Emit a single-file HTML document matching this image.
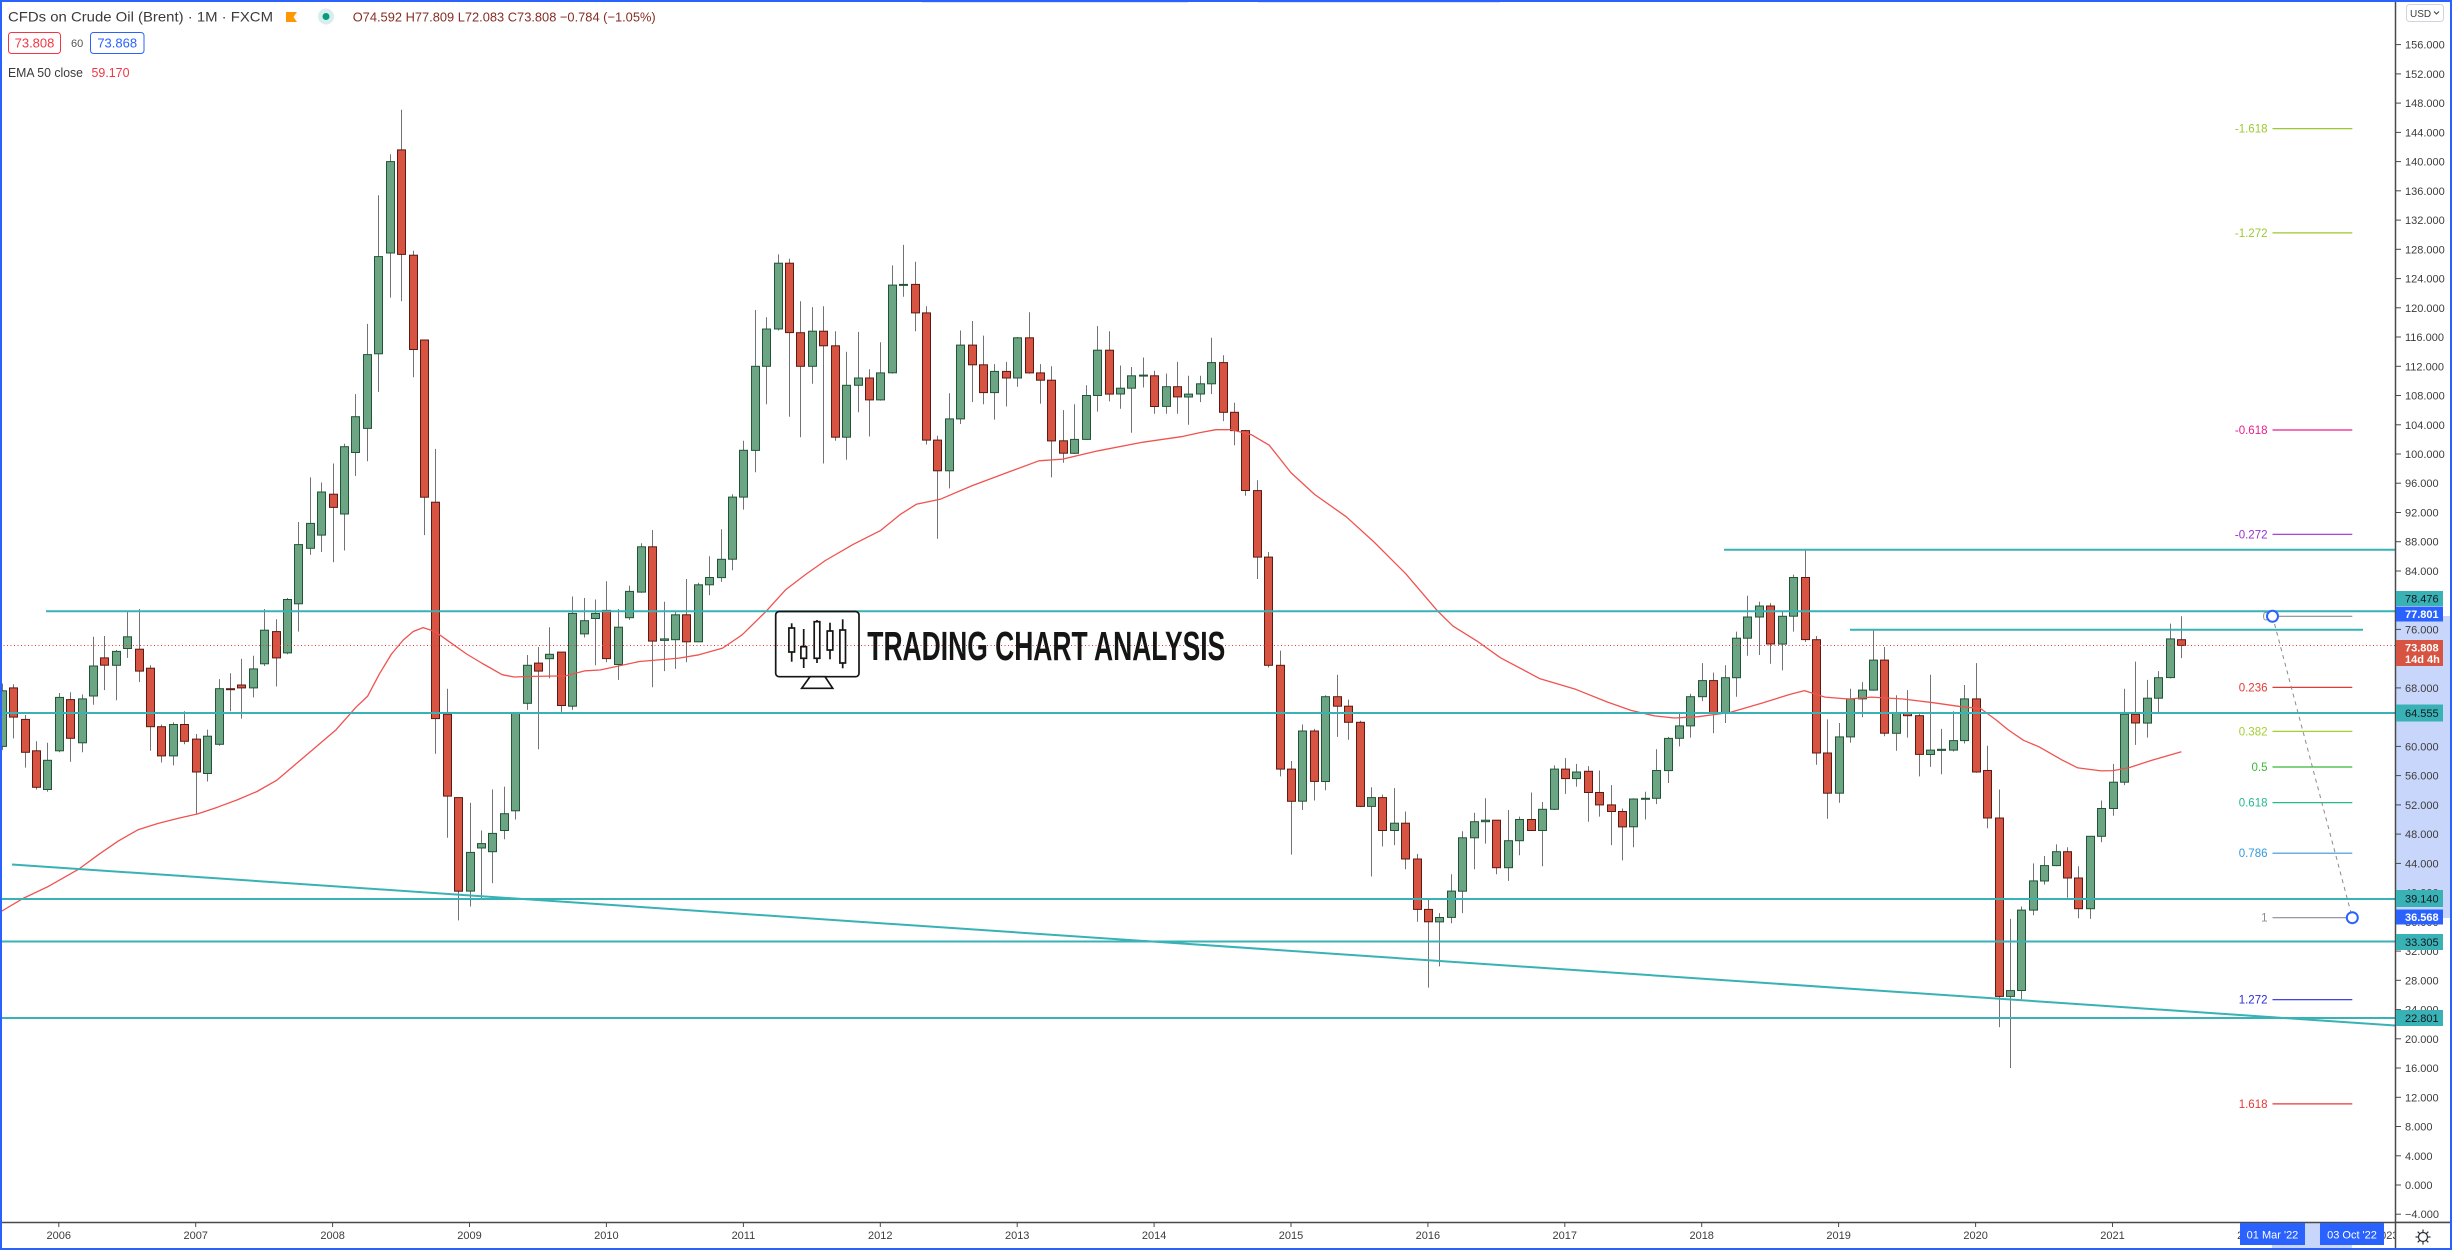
<!DOCTYPE html>
<html>
<head>
<meta charset="utf-8">
<style>
html,body{margin:0;padding:0;background:#fff;}
svg{display:block;}
text{font-family:"Liberation Sans",Arial,sans-serif;}
</style>
</head>
<body>
<svg id="chart" width="2452" height="1250" viewBox="0 0 2452 1250" xmlns="http://www.w3.org/2000/svg">
<rect x="0" y="0" width="2452" height="1250" fill="#ffffff"/>
<rect x="922" y="0" width="266" height="3" fill="#e3e5ea"/>
<rect x="1258" y="0" width="242" height="3" fill="#e3e5ea"/>

<!-- candles -->
<g id="candles"></g>

<!-- EMA 50 -->
<polyline fill="none" stroke="#ef5350" stroke-width="1.3" stroke-linejoin="round" points="0,912.1 23.7,898.1 47.4,886.9 79.1,868.9 98.9,854.3 118.6,840.8 138.4,829.6 158.2,823.4 177.9,818.4 197.7,813.9 217.5,807.2 237.2,799.9 257,791.5 276.8,780.2 296.6,763.4 316.3,746.6 336.1,729.7 355.9,707.3 367.7,696.1 379.6,673.6 391.5,654 403.3,640 413.2,631.5 423.1,627.6 435,631.5 450.8,642.8 466.6,654 482.4,663.5 502.2,674.7 514,677 533.8,676.4 565.4,675.9 585.2,670.8 600,670 639.5,661.5 679.1,658.1 698.9,654.8 722.6,648.1 742.3,634.7 766.1,611.3 785.8,589.6 805.6,574.5 825.4,560.5 853.1,544.4 880.7,530.4 900.5,514.3 916.3,504.3 940.1,499.3 971.7,485.9 1007.3,472.5 1038.9,460.8 1062.6,459.1 1098.2,450.8 1141.7,442.4 1181.3,436.7 1200,432.6 1215.8,429.7 1231.6,429.7 1251.4,434.7 1269.2,445.2 1290.9,472.6 1314.7,494.5 1346.3,516.8 1374,542 1405.6,573.6 1437.2,610.6 1453.1,626.2 1476.8,640.9 1500.5,657.8 1540.1,678.8 1575.6,689.3 1607.3,702 1631,710.4 1654.7,715.9 1674.5,718 1698.2,716.7 1729.8,712.5 1761.5,703.2 1790,694.4 1804.4,690.6 1825,697.1 1848.4,699 1871.7,697.1 1902.8,699 1934,702.8 1961.2,706.7 1980.7,708.6 1996.2,720 2007.9,729.6 2023.5,740.3 2039,746.8 2062.4,760.2 2077.9,767.9 2101.3,770.9 2113,770.6 2128.5,767.9 2151.9,760.2 2181.4,751.8"/>

<!-- close price dotted line -->
<line x1="0" y1="645.5" x2="2395" y2="645.5" stroke="#e53935" stroke-width="1" stroke-dasharray="1,2.5"/>

<!-- teal horizontal lines -->
<g stroke="#38b2b4" stroke-width="2">
<line x1="46" y1="611.3" x2="2395" y2="611.3"/>
<line x1="1724" y1="549.8" x2="2395" y2="549.8"/>
<line x1="1850" y1="629.7" x2="2363" y2="629.7"/>
<line x1="0" y1="713" x2="2395" y2="713"/>
<line x1="0" y1="899" x2="2395" y2="899"/>
<line x1="0" y1="941.5" x2="2395" y2="941.5"/>
<line x1="0" y1="1018" x2="2395" y2="1018"/>
<line x1="12" y1="864.5" x2="2395" y2="1025.5"/>
</g>

<!-- logo -->
<g fill="none" stroke="#151515" stroke-width="1.7">
<rect x="775.7" y="611.5" width="83.3" height="65.2" rx="3.5"/>
<polygon points="810,676.7 825,676.7 832.7,688.3 801.7,688.3"/>
<line x1="791.7" y1="623.3" x2="791.7" y2="661.7"/>
<line x1="803.7" y1="629" x2="803.7" y2="668"/>
<line x1="817" y1="620" x2="817" y2="663"/>
<line x1="830" y1="622.7" x2="830" y2="659.3"/>
<line x1="842.7" y1="619.3" x2="842.7" y2="668.3"/>
</g>
<g fill="#ffffff" stroke="#151515" stroke-width="1.7">
<rect x="788.9" y="628" width="5.6" height="24"/>
<rect x="800.9" y="646.7" width="5.6" height="11.6"/>
<rect x="814.2" y="621.7" width="5.6" height="36.6"/>
<rect x="827.2" y="631" width="5.6" height="19"/>
<rect x="839.9" y="630" width="5.6" height="33"/>
</g>
<text x="867.3" y="660" font-size="41" font-weight="bold" fill="#151515" textLength="358" lengthAdjust="spacingAndGlyphs">TRADING CHART ANALYSIS</text>

<!-- fibonacci -->
<g stroke-width="1.2">
<line x1="2272.5" y1="128.6" x2="2352.3" y2="128.6" stroke="#9bc832"/>
<line x1="2272.5" y1="232.9" x2="2352.3" y2="232.9" stroke="#9bc832"/>
<line x1="2272.5" y1="430" x2="2352.3" y2="430" stroke="#e91e8c"/>
<line x1="2272.5" y1="534.3" x2="2352.3" y2="534.3" stroke="#9a2fd0"/>
<line x1="2272.5" y1="616.3" x2="2352.3" y2="616.3" stroke="#8a8d96"/>
<line x1="2272.5" y1="687.4" x2="2352.3" y2="687.4" stroke="#e53935"/>
<line x1="2272.5" y1="731.4" x2="2352.3" y2="731.4" stroke="#a5cf35"/>
<line x1="2272.5" y1="767" x2="2352.3" y2="767" stroke="#38b838"/>
<line x1="2272.5" y1="802.6" x2="2352.3" y2="802.6" stroke="#26b98e"/>
<line x1="2272.5" y1="853.2" x2="2352.3" y2="853.2" stroke="#3399dd"/>
<line x1="2272.5" y1="917.7" x2="2352.3" y2="917.7" stroke="#8a8d96"/>
<line x1="2272.5" y1="999.7" x2="2352.3" y2="999.7" stroke="#2b2bd9"/>
<line x1="2272.5" y1="1103.9" x2="2352.3" y2="1103.9" stroke="#e53935"/>
</g>
<g font-size="11.5" text-anchor="end">
<text x="2267.5" y="132.6" fill="#9bc832">-1.618</text>
<text x="2267.5" y="236.9" fill="#9bc832">-1.272</text>
<text x="2267.5" y="434" fill="#e91e8c">-0.618</text>
<text x="2267.5" y="538.3" fill="#9a2fd0">-0.272</text>
<text x="2269" y="620.3" fill="#8a8d96">0</text>
<text x="2267.5" y="691.4" fill="#e53935">0.236</text>
<text x="2267.5" y="735.4" fill="#a5cf35">0.382</text>
<text x="2267.5" y="771" fill="#38b838">0.5</text>
<text x="2267.5" y="806.6" fill="#26b98e">0.618</text>
<text x="2267.5" y="857.2" fill="#3399dd">0.786</text>
<text x="2267.5" y="921.7" fill="#8a8d96">1</text>
<text x="2267.5" y="1003.7" fill="#2b2bd9">1.272</text>
<text x="2267.5" y="1107.9" fill="#e53935">1.618</text>
</g>
<line x1="2272.5" y1="616.3" x2="2352.3" y2="917.7" stroke="#8b8b8b" stroke-width="1" stroke-dasharray="4,4"/>
<circle cx="2272.5" cy="616.3" r="5.5" fill="#ffffff" stroke="#2962ff" stroke-width="2"/>
<circle cx="2352.3" cy="917.7" r="5.5" fill="#ffffff" stroke="#2962ff" stroke-width="2"/>

<!-- price axis -->
<rect x="2396" y="0" width="56" height="1222" fill="#ffffff"/>
<rect x="2396" y="616" width="56" height="302" fill="#c9d6fb"/>
<line x1="2395.5" y1="0" x2="2395.5" y2="1250" stroke="#4a4a4a" stroke-width="1.5"/>
<g stroke="#4a4a4a" stroke-width="1">
<line x1="2395" y1="44.6" x2="2401" y2="44.6"/><line x1="2395" y1="73.9" x2="2401" y2="73.9"/><line x1="2395" y1="103.1" x2="2401" y2="103.1"/><line x1="2395" y1="132.4" x2="2401" y2="132.4"/><line x1="2395" y1="161.6" x2="2401" y2="161.6"/><line x1="2395" y1="190.8" x2="2401" y2="190.8"/><line x1="2395" y1="220.1" x2="2401" y2="220.1"/><line x1="2395" y1="249.3" x2="2401" y2="249.3"/><line x1="2395" y1="278.6" x2="2401" y2="278.6"/><line x1="2395" y1="307.8" x2="2401" y2="307.8"/><line x1="2395" y1="337" x2="2401" y2="337"/><line x1="2395" y1="366.3" x2="2401" y2="366.3"/><line x1="2395" y1="395.5" x2="2401" y2="395.5"/><line x1="2395" y1="424.8" x2="2401" y2="424.8"/><line x1="2395" y1="454" x2="2401" y2="454"/><line x1="2395" y1="483.2" x2="2401" y2="483.2"/><line x1="2395" y1="512.5" x2="2401" y2="512.5"/><line x1="2395" y1="541.7" x2="2401" y2="541.7"/><line x1="2395" y1="571" x2="2401" y2="571"/><line x1="2395" y1="600.2" x2="2401" y2="600.2"/><line x1="2395" y1="629.4" x2="2401" y2="629.4"/><line x1="2395" y1="658.7" x2="2401" y2="658.7"/><line x1="2395" y1="687.9" x2="2401" y2="687.9"/><line x1="2395" y1="717.2" x2="2401" y2="717.2"/><line x1="2395" y1="746.4" x2="2401" y2="746.4"/><line x1="2395" y1="775.6" x2="2401" y2="775.6"/><line x1="2395" y1="804.9" x2="2401" y2="804.9"/><line x1="2395" y1="834.1" x2="2401" y2="834.1"/><line x1="2395" y1="863.4" x2="2401" y2="863.4"/><line x1="2395" y1="892.6" x2="2401" y2="892.6"/><line x1="2395" y1="921.8" x2="2401" y2="921.8"/><line x1="2395" y1="951.1" x2="2401" y2="951.1"/><line x1="2395" y1="980.3" x2="2401" y2="980.3"/><line x1="2395" y1="1009.6" x2="2401" y2="1009.6"/><line x1="2395" y1="1038.8" x2="2401" y2="1038.8"/><line x1="2395" y1="1068" x2="2401" y2="1068"/><line x1="2395" y1="1097.3" x2="2401" y2="1097.3"/><line x1="2395" y1="1126.5" x2="2401" y2="1126.5"/><line x1="2395" y1="1155.8" x2="2401" y2="1155.8"/><line x1="2395" y1="1185" x2="2401" y2="1185"/><line x1="2395" y1="1214.2" x2="2401" y2="1214.2"/>
</g>
<g font-size="11" fill="#3c3c3c">
<text x="2405" y="48.6">156.000</text>
<text x="2405" y="77.9">152.000</text>
<text x="2405" y="107.1">148.000</text>
<text x="2405" y="136.4">144.000</text>
<text x="2405" y="165.6">140.000</text>
<text x="2405" y="194.8">136.000</text>
<text x="2405" y="224.1">132.000</text>
<text x="2405" y="253.3">128.000</text>
<text x="2405" y="282.6">124.000</text>
<text x="2405" y="311.8">120.000</text>
<text x="2405" y="341">116.000</text>
<text x="2405" y="370.3">112.000</text>
<text x="2405" y="399.5">108.000</text>
<text x="2405" y="428.8">104.000</text>
<text x="2405" y="458">100.000</text>
<text x="2405" y="487.2">96.000</text>
<text x="2405" y="516.5">92.000</text>
<text x="2405" y="545.7">88.000</text>
<text x="2405" y="575">84.000</text>
<text x="2405" y="604.2">80.000</text>
<text x="2405" y="633.4">76.000</text>
<text x="2405" y="662.7">72.000</text>
<text x="2405" y="691.9">68.000</text>
<text x="2405" y="721.2">64.000</text>
<text x="2405" y="750.4">60.000</text>
<text x="2405" y="779.6">56.000</text>
<text x="2405" y="808.9">52.000</text>
<text x="2405" y="838.1">48.000</text>
<text x="2405" y="867.4">44.000</text>
<text x="2405" y="896.6">40.000</text>
<text x="2405" y="925.8">36.000</text>
<text x="2405" y="955.1">32.000</text>
<text x="2405" y="984.3">28.000</text>
<text x="2405" y="1013.6">24.000</text>
<text x="2405" y="1042.8">20.000</text>
<text x="2405" y="1072">16.000</text>
<text x="2405" y="1101.3">12.000</text>
<text x="2405" y="1130.5">8.000</text>
<text x="2405" y="1159.8">4.000</text>
<text x="2405" y="1189">0.000</text>
<text x="2405" y="1218.2">−4.000</text>
</g>
<!-- USD box -->
<rect x="2406.5" y="4.5" width="37" height="17" rx="3" fill="#ffffff" stroke="#d1d4dc" stroke-width="1"/>
<text x="2410" y="17" font-size="10" fill="#3c3c3c">USD</text>
<polyline points="2434,11.5 2436.5,14 2439,11.5" fill="none" stroke="#3c3c3c" stroke-width="1"/>

<!-- price labels -->
<rect x="2396" y="591" width="47" height="15" fill="#38b2b4"/>
<text x="2405" y="602.5" font-size="11" fill="#131722">78.476</text>
<rect x="2396" y="606.5" width="47" height="15" fill="#2962ff"/>
<text x="2405" y="618" font-size="11" font-weight="bold" fill="#ffffff">77.801</text>
<rect x="2396" y="640" width="47" height="26" fill="#d75442"/>
<text x="2405" y="651.5" font-size="11" font-weight="bold" fill="#ffffff">73.808</text>
<text x="2405" y="663" font-size="11" font-weight="bold" fill="#ffffff">14d 4h</text>
<rect x="2396" y="704.5" width="47" height="17" fill="#38b2b4"/>
<text x="2405" y="717" font-size="11" fill="#131722">64.555</text>
<rect x="2396" y="890" width="47" height="17" fill="#38b2b4"/>
<text x="2405" y="902.5" font-size="11" fill="#131722">39.140</text>
<rect x="2396" y="909.5" width="47" height="15" fill="#2962ff"/>
<text x="2405" y="921" font-size="11" font-weight="bold" fill="#ffffff">36.568</text>
<rect x="2396" y="934" width="47" height="16" fill="#38b2b4"/>
<text x="2405" y="946" font-size="11" fill="#131722">33.305</text>
<rect x="2396" y="1010" width="47" height="16" fill="#38b2b4"/>
<text x="2405" y="1022" font-size="11" fill="#131722">22.801</text>

<!-- time axis -->
<rect x="0" y="1223" width="2395" height="27" fill="#ffffff"/>
<rect x="2272" y="1223" width="80" height="25" fill="#c9d6fb"/>
<line x1="0" y1="1222.5" x2="2452" y2="1222.5" stroke="#4a4a4a" stroke-width="1.5"/>
<g stroke="#4a4a4a" stroke-width="1">
<line x1="58.8" y1="1222" x2="58.8" y2="1227"/><line x1="195.7" y1="1222" x2="195.7" y2="1227"/><line x1="332.6" y1="1222" x2="332.6" y2="1227"/><line x1="469.5" y1="1222" x2="469.5" y2="1227"/><line x1="606.4" y1="1222" x2="606.4" y2="1227"/><line x1="743.4" y1="1222" x2="743.4" y2="1227"/><line x1="880.3" y1="1222" x2="880.3" y2="1227"/><line x1="1017.2" y1="1222" x2="1017.2" y2="1227"/><line x1="1154.1" y1="1222" x2="1154.1" y2="1227"/><line x1="1291" y1="1222" x2="1291" y2="1227"/><line x1="1427.9" y1="1222" x2="1427.9" y2="1227"/><line x1="1564.8" y1="1222" x2="1564.8" y2="1227"/><line x1="1701.7" y1="1222" x2="1701.7" y2="1227"/><line x1="1838.6" y1="1222" x2="1838.6" y2="1227"/><line x1="1975.6" y1="1222" x2="1975.6" y2="1227"/><line x1="2112.5" y1="1222" x2="2112.5" y2="1227"/>
</g>
<g font-size="11" fill="#3c3c3c" text-anchor="middle">
<text x="58.8" y="1239">2006</text>
<text x="195.7" y="1239">2007</text>
<text x="332.6" y="1239">2008</text>
<text x="469.5" y="1239">2009</text>
<text x="606.4" y="1239">2010</text>
<text x="743.4" y="1239">2011</text>
<text x="880.3" y="1239">2012</text>
<text x="1017.2" y="1239">2013</text>
<text x="1154.1" y="1239">2014</text>
<text x="1291" y="1239">2015</text>
<text x="1427.9" y="1239">2016</text>
<text x="1564.8" y="1239">2017</text>
<text x="1701.7" y="1239">2018</text>
<text x="1838.6" y="1239">2019</text>
<text x="1975.6" y="1239">2020</text>
<text x="2112.5" y="1239">2021</text>
<text x="2249.4" y="1239">2022</text>
<text x="2386.3" y="1239">2023</text>
</g>
<rect x="2396" y="1223" width="56" height="27" fill="#ffffff"/>
<line x1="2395.5" y1="1222" x2="2395.5" y2="1250" stroke="#4a4a4a" stroke-width="1.5"/>
<line x1="2395" y1="1222.5" x2="2452" y2="1222.5" stroke="#4a4a4a" stroke-width="1.5"/>
<rect x="2240" y="1223" width="65" height="22" fill="#2962ff"/>
<text x="2272.5" y="1238.5" font-size="11" fill="#ffffff" text-anchor="middle">01 Mar '22</text>
<rect x="2320" y="1223" width="64" height="22" fill="#2962ff"/>
<text x="2352" y="1238.5" font-size="11" fill="#ffffff" text-anchor="middle">03 Oct '22</text>
<!-- gear -->
<g stroke="#2a2e39" stroke-width="1.2" fill="none">
<circle cx="2423" cy="1237" r="4.5"/>
<line x1="2423" y1="1229.5" x2="2423" y2="1232.5"/><line x1="2423" y1="1241.5" x2="2423" y2="1244.5"/>
<line x1="2415.5" y1="1237" x2="2418.5" y2="1237"/><line x1="2427.5" y1="1237" x2="2430.5" y2="1237"/>
<line x1="2417.7" y1="1231.7" x2="2419.8" y2="1233.8"/><line x1="2426.2" y1="1240.2" x2="2428.3" y2="1242.3"/>
<line x1="2417.7" y1="1242.3" x2="2419.8" y2="1240.2"/><line x1="2426.2" y1="1233.8" x2="2428.3" y2="1231.7"/>
</g>

<!-- header -->
<text x="8" y="21.7" font-size="14" fill="#3a3a3a" textLength="265" lengthAdjust="spacingAndGlyphs">CFDs on Crude Oil (Brent) · 1M · FXCM</text>
<polygon points="286,12 297,12 293.5,17 297,22 286,22" fill="#ff9800"/>
<circle cx="326" cy="16.5" r="8" fill="#d7eeea"/>
<circle cx="326" cy="16.5" r="3.5" fill="#089981"/>
<text x="352.7" y="21.7" font-size="13" fill="#862d22" textLength="303" lengthAdjust="spacingAndGlyphs">O74.592 H77.809 L72.083 C73.808 −0.784 (−1.05%)</text>
<rect x="8.5" y="32.5" width="52" height="21" rx="3" fill="#ffffff" stroke="#f23645" stroke-width="1"/>
<text x="34.5" y="47.5" font-size="13" fill="#f23645" text-anchor="middle">73.808</text>
<text x="71" y="47" font-size="11" fill="#555555">60</text>
<rect x="90.5" y="32.5" width="53.5" height="21" rx="3" fill="#ffffff" stroke="#2962ff" stroke-width="1"/>
<text x="117.2" y="47.5" font-size="13" fill="#2962ff" text-anchor="middle">73.868</text>
<text x="8" y="77.2" font-size="12.5" fill="#3a3a3a" textLength="75" lengthAdjust="spacingAndGlyphs">EMA 50 close</text>
<text x="91.5" y="77.2" font-size="12.5" fill="#f23645" textLength="38" lengthAdjust="spacingAndGlyphs">59.170</text>

<!-- frame -->
<rect x="1" y="1" width="2450" height="1248" fill="none" stroke="#2962ff" stroke-width="2"/>
</svg>
<script>
(function(){
var raw="60,68.6,59.5,67.6;68,68.5,61.1,64;63.7,64.3,57.1,59.2;59.4,60.7,54.1,54.4;54.1,60.5,53.8,58.1;"+
"59.4,67.3,59.2,66.7;66.4,67.4,57.9,61.1;60.5,67.1,59.2,66.5;66.9,75,65.7,71;72.1,75.1,67.7,71.1;71.1,73.2,66.3,73;73.4,78.4,72.1,75;73.3,78.8,68.8,70.3;70.7,71.1,59.4,62.7;62.7,63,57.8,58.7;58.7,63.3,57.4,63;63,64.8,60.3,60.7;"+
"61,61.7,50.8,56.5;56.3,62.3,55.2,61.4;60.3,69.2,60.1,67.9;67.9,70,64.8,67.8;68.4,72,63.8,68;68,72.4,66.7,70.6;71.3,78.8,71,75.9;75.7,77.4,68.2,72.1;72.8,80.3,72.6,80.1;79.5,90.7,75.7,87.6;87.1,96.8,86.2,90.5;88.9,96.1,86.6,94.8;"+
"94.5,98.7,85.2,92.7;91.8,101.4,86.8,101;100.2,108.2,97,105.1;103.5,117.8,99,113.6;113.7,135.4,108.5,127;127.5,141,121.4,140;141.6,147.1,120.9,127.3;127.2,127.8,110.5,114.3;115.6,115.6,88.9,94.1;93.4,100.7,59,63.8;64.4,67.9,47.5,53.2;53,53,36.2,40.2;"+
"40.2,52.3,38.1,45.5;46.1,48.5,39.2,46.7;45.6,54.1,41.3,48.1;48.5,54.5,47.3,50.8;51.2,64.7,50,64.6;65.9,72.5,65,71.1;71.4,73.6,59.6,70.3;72,76.3,69.3,72.6;72.9,72.9,64.6,65.6;65.5,80.5,65,78.2;75.4,80.3,74.9,77.2;77.5,80.1,71.1,78.2;"+
"78.6,82.6,71.5,72;71.2,78.8,69.1,76.3;77.6,82,77.3,81.2;81.1,87.8,81,87.3;87.3,89.6,68.1,74.4;74.5,79.8,70.3,74.7;74.6,78.4,70.6,78;78,82.9,71.5,74.3;74.3,82.4,74.3,82.1;82.1,86,80.7,83.1;83.1,89.7,82.5,85.6;85.6,94.5,84.1,94.1;"+
"94.1,101.8,92.4,100.5;100.5,119.7,97.5,112;112,118.7,106.8,117.1;117.1,127.3,116.9,126.1;126.1,126.7,105.1,116.6;116.6,120.9,102.3,112;112,120.1,109.6,116.8;116.8,120.2,98.7,114.8;114.8,116.8,101.8,102.3;102.3,114,99.2,109.4;109.4,116.7,105.7,110.4;110.4,111.6,102.4,107.4;"+
"107.4,115.3,107.3,111.1;111.1,125.8,111,123.1;123.1,128.6,121.5,123.2;123.2,126.3,116.8,119.3;119.3,120.2,101.3,101.9;101.9,102.5,88.4,97.7;97.7,108.3,95.3,104.8;104.8,116.9,104.1,114.9;114.9,118.2,107.1,112.2;112.2,116.2,106.8,108.4;108.4,112.3,104.7,111.3;111.3,112.6,106.5,110.4;"+
"110.4,116,109.2,115.9;115.9,119.4,111,111.1;111.1,112.3,106.9,110.1;110.1,112,96.8,101.8;101.8,106,98.8,100.1;100.1,106.8,100,102;102,109.4,101.9,108;108,117.5,105.8,114.2;114.2,116.8,107.2,108.2;108.2,112.1,106.2,109;109,111.9,102.9,110.7;110.7,113.2,109.1,110.8;"+
"110.7,111.4,105.5,106.5;106.5,111,105.5,109.2;109.2,112.6,105.5,107.8;107.8,110.7,104,108.2;108.2,110.7,107.1,109.6;109.6,115.9,108.2,112.5;112.5,113.5,104.5,105.7;105.7,107,101.2,103.2;103.2,103.3,94.3,95;95,96.4,82.9,85.9;85.9,86.6,70.8,71.1;71.1,73.1,55.9,56.9;"+
"56.9,58,45.2,52.5;52.5,63,51.3,62.1;62.1,62.4,52.6,55.2;55.2,67,54,66.8;66.8,69.8,61.3,65.5;65.5,66.4,60.9,63.3;63.3,63.5,51.7,51.8;51.8,54.4,42.2,53;53,53.4,46.3,48.5;48.5,54.3,46.5,49.5;49.5,51.1,43.2,44.6;44.6,45.3,36,37.7;"+
"37.7,39,27,36;36,37.2,29.9,36.6;36.6,42.5,35.8,40.2;40.2,48.4,37.2,47.5;47.5,50.9,43.2,49.7;49.7,52.9,46.7,49.9;49.9,49.9,42.5,43.4;43.4,51.3,41.6,47.1;47.1,50.4,45.1,50;50,53.7,48.5,48.5;48.5,52.4,43.6,51.4;51.4,57.4,51.3,56.9;"+
"56.9,58.4,53.5,55.6;55.6,57.6,54.5,56.5;56.6,57.3,49.7,53.7;53.7,56.7,50.4,52;52,54.7,46.5,51.1;51.1,51.5,44.4,49;49,52.9,46.2,52.8;52.8,53.8,50,52.9;52.9,59.6,52.1,56.7;56.7,61.3,55,61.1;61.1,64.6,60,62.8;62.8,67.2,61.2,66.8;"+
"66.8,71.4,66.2,69;69,70.1,61.8,64.6;64.6,71.1,63.2,69.4;69.4,75.7,66.8,74.8;74.8,80.6,72.4,77.7;77.7,79.8,72.5,79.2;79.2,79.6,71.3,74;74,78.5,70.4,77.8;77.8,83.5,75.7,83.1;83.1,86.9,74.3,74.6;74.6,75.1,57.5,59.1;59.1,63.7,50.1,53.6;"+
"53.6,63.2,52.3,61.3;61.3,67.9,60.5,66.5;66.5,68.8,64,67.7;67.7,75.9,67.6,71.8;71.8,73.6,61.4,61.8;61.8,67,59.4,64.6;64.6,67.7,61.2,64.2;64.2,64.6,55.9,58.9;58.9,69.8,57.2,59.5;59.45,62.4,56.2,59.6;59.5,64.8,59.3,60.8;60.8,68.4,60.4,66.5;"+
"66.5,71.4,56.4,56.5;56.7,60.1,48.8,50.2;50.2,54.1,21.6,25.8;25.8,36.4,16,26.6;26.6,38.1,25.4,37.6;37.6,44,36.9,41.6;41.6,45,41.1,43.7;43.7,46.6,43.6,45.6;45.6,46.2,39.3,42;42,43.6,36.5,37.8;37.8,47.7,36.4,47.7;47.7,52.6,46.9,51.5;"+
"51.5,57.6,50.5,55.1;55.1,67.9,54.7,64.4;64.4,71.6,60.2,63.2;63.2,69.1,61.2,66.6;66.6,70.3,64.6,69.4;69.4,76.8,69.3,74.7;74.592,77.809,72.083,73.808";
var rows=raw.split(";");
var NS="http://www.w3.org/2000/svg";
var g=document.getElementById("candles");
function Y(p){return 1185-7.31*p;}
for(var i=0;i<rows.length;i++){
  var v=rows[i].split(",").map(Number);
  var o=v[0],h=v[1],l=v[2],c=v[3];
  var x=58.8+(i-5)*11.41;
  var xr=Math.round(x)+0.5;
  var w=document.createElementNS(NS,"line");
  w.setAttribute("x1",xr);w.setAttribute("x2",xr);
  w.setAttribute("y1",Y(h).toFixed(1));w.setAttribute("y2",Y(l).toFixed(1));
  w.setAttribute("stroke","#737375");w.setAttribute("stroke-width","1");
  g.appendChild(w);
  var up=c>=o;
  var top=Y(Math.max(o,c)),bot=Y(Math.min(o,c));
  var hh=Math.max(bot-top,1);
  var r=document.createElementNS(NS,"rect");
  r.setAttribute("x",(xr-4).toFixed(1));
  r.setAttribute("width","8");
  r.setAttribute("y",top.toFixed(1));
  r.setAttribute("height",hh.toFixed(1));
  r.setAttribute("fill",up?"#6ba583":"#d75442");
  r.setAttribute("stroke",up?"#225437":"#5b1a13");
  r.setAttribute("stroke-width","1");
  g.appendChild(r);
}
})();
</script>
</body>
</html>
